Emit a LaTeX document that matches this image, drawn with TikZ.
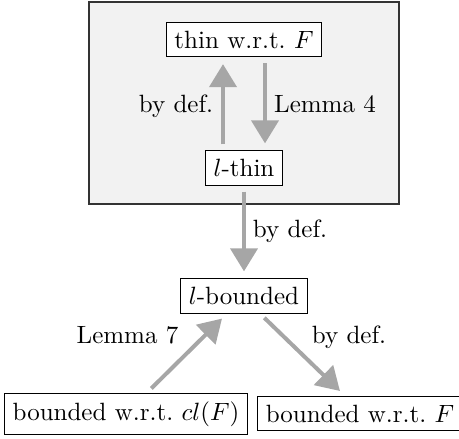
\documentclass[tikz,border=0pt]{standalone}
\usetikzlibrary{arrows.meta}
\begin{document}
\begin{tikzpicture}[x=0.4pt, y=-0.4pt,
  box/.style={draw=black, fill=white, line width=0.4pt, inner sep=3.33pt},
  lbl/.style={anchor=base, inner sep=0pt},
  arr/.style={draw=gray!70, line width=1.6pt,
    -{Triangle[width=10.8pt,length=9.2pt]},
    shorten <=2.4pt, shorten >=2.8pt},
  frame/.style={draw=black!80, fill=gray!10, line width=0.8pt}]
  \useasboundingbox (0,0) rectangle (459,439);

  % shaded region around the thinness notions
  \draw[frame] (89,2) rectangle (399,204);

  % notions
  \node[box] (thin)  at (244,39.5)  {thin w.r.t.\ $F$};
  \node[box] (lthin) at (244,168)   {$l$-thin};
  \node[box] (lbd)   at (244,296)   {$l$-bounded};
  \node[box] (bcl)   at (126,414)   {bounded w.r.t.\ $cl(F)$};
  \node[box] (bF)    at (360,413.5) {bounded w.r.t.\ $F$};

  % implications
  \draw[arr] ([xshift=-8.4pt]lthin.north) -- ([xshift=-8.4pt]thin.south);
  \draw[arr] ([xshift=8.4pt]thin.south) -- ([xshift=8.4pt]lthin.north);
  \draw[arr] (lthin.south) -- (lbd.north);
  \draw[arr] ([xshift=8.4pt]bcl.north) -- ([xshift=-6.8pt]lbd.south);
  \draw[arr] ([xshift=6.4pt]lbd.south) -- ([xshift=-6pt]bF.north);

  % labels
  \node[lbl] (l1) at (176,112)   {by def.};
  \node[lbl] (l2) at (325,112)   {Lemma 4};
  \node[lbl] (l3) at (290,237)   {by def.};
  \node[lbl] (l4) at (127.5,343) {Lemma 7};
  \node[lbl] (l5) at (349,343)   {by def.};
\end{tikzpicture}
\end{document}
